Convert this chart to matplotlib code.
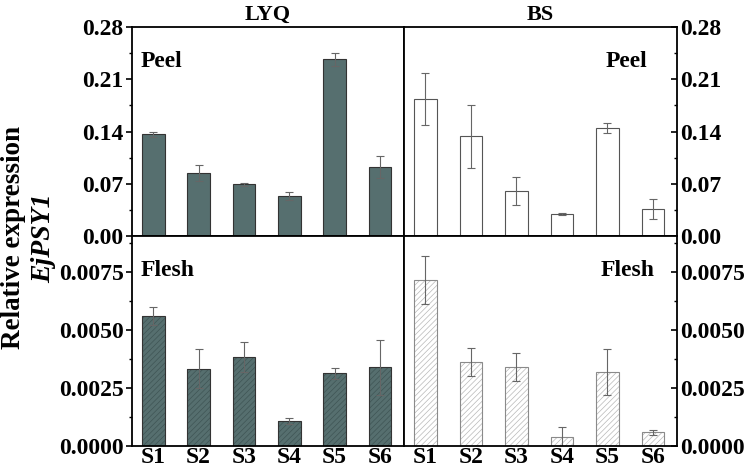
import numpy as np
import matplotlib
matplotlib.use("Agg")
import matplotlib.pyplot as plt

plt.rcParams['font.family'] = ['Liberation Serif', 'DejaVu Serif']
plt.rcParams['font.weight'] = 'bold'
plt.rcParams['hatch.linewidth'] = 0.5

stages = ["S1", "S2", "S3", "S4", "S5", "S6"]

# peel
lyq_peel = [0.136, 0.0844, 0.0696, 0.0534, 0.2365, 0.0925]
lyq_peel_err = [0.004, 0.011, 0.002, 0.005, 0.009, 0.015]
bs_peel = [0.184, 0.1337, 0.0602, 0.0296, 0.1444, 0.0359]
bs_peel_err = [0.035, 0.042, 0.019, 0.001, 0.007, 0.0135]

# flesh
lyq_flesh = [0.0056, 0.00334, 0.00384, 0.00106, 0.00313, 0.00339]
lyq_flesh_err = [0.0004, 0.00083, 0.00064, 0.00013, 0.00023, 0.0012]
bs_flesh = [0.00716, 0.00361, 0.0034, 0.00037, 0.0032, 0.00059]
bs_flesh_err = [0.00103, 0.00061, 0.00061, 0.00043, 0.001, 0.0001]

fill = "#566f6f"
x = np.arange(len(stages))
fig = plt.figure(figsize=(7.49, 4.69), dpi=100)

L, M, R = 0.1762, 0.5394, 0.9039
T, C, B = 0.9424, 0.4968, 0.049
ax_tl = fig.add_axes([L, C, M - L, T - C])
ax_tr = fig.add_axes([M, C, R - M, T - C])
ax_bl = fig.add_axes([L, B, M - L, C - B])
ax_br = fig.add_axes([M, B, R - M, C - B])

eb = dict(ecolor="#666666", elinewidth=0.8, capsize=3, capthick=0.8)

ax_tl.bar(x, lyq_peel, 0.5, yerr=lyq_peel_err, color=fill, edgecolor="#333333", lw=0.8, error_kw=eb)
ax_tr.bar(x, bs_peel, 0.5, yerr=bs_peel_err, color="white", edgecolor="#555555", lw=0.8, error_kw=eb)

# flesh: hatch drawn in a soft colour, outline drawn on top
ax_bl.bar(x, lyq_flesh, 0.5, color=fill, edgecolor="#3f5555", lw=0, hatch="//////")
ax_bl.bar(x, lyq_flesh, 0.5, yerr=lyq_flesh_err, fill=False, edgecolor="#333333", lw=0.8, error_kw=eb)
ax_br.bar(x, bs_flesh, 0.5, color="white", edgecolor="#b8b8b8", lw=0, hatch="//////")
ax_br.bar(x, bs_flesh, 0.5, yerr=bs_flesh_err, fill=False, edgecolor="#8a8a8a", lw=0.8, error_kw=eb)

for ax in (ax_tl, ax_tr):
    ax.set_ylim(0, 0.28)
    ax.set_yticks([0, 0.07, 0.14, 0.21, 0.28])
    ax.set_yticks([0.035, 0.105, 0.175, 0.245], minor=True)
    ax.set_yticklabels(["0.00", "0.07", "0.14", "0.21", "0.28"])
for ax in (ax_bl, ax_br):
    ax.set_ylim(0, 0.00905)
    ax.set_yticks([0, 0.0025, 0.005, 0.0075])
    ax.set_yticks([0.00125, 0.00375, 0.00625, 0.00875], minor=True)
    ax.set_yticklabels(["0.0000", "0.0025", "0.0050", "0.0075"])

for ax in (ax_tl, ax_tr, ax_bl, ax_br):
    ax.set_xlim(-0.47, 5.53)
    ax.tick_params(axis='x', length=0)
    ax.tick_params(axis='y', labelsize=17, width=1.2, length=4, pad=2)
    ax.tick_params(axis='y', which='minor', width=1.0, length=2.5)
    for s in ax.spines.values():
        s.set_linewidth(1.3)
    ax.set_xticks(x)

for ax in (ax_tl, ax_tr):
    ax.set_xticklabels([])
for ax in (ax_bl, ax_br):
    ax.set_xticklabels(stages, fontsize=17)
    ax.tick_params(axis='x', pad=1)

for ax in (ax_tr, ax_br):
    ax.yaxis.tick_right()
    ax.tick_params(axis='y', which='both', direction='in')

ax_tl.set_title("LYQ", fontsize=16, fontweight='bold', pad=5)
ax_tr.set_title("BS", fontsize=16, fontweight='bold', pad=5)

ax_tl.text(0.03, 0.81, "Peel", transform=ax_tl.transAxes, fontsize=17, fontweight='bold')
ax_tr.text(0.74, 0.81, "Peel", transform=ax_tr.transAxes, fontsize=17, fontweight='bold')
ax_bl.text(0.03, 0.81, "Flesh", transform=ax_bl.transAxes, fontsize=17, fontweight='bold')
ax_br.text(0.72, 0.81, "Flesh", transform=ax_br.transAxes, fontsize=17, fontweight='bold')

fig.text(0.018, 0.493, "Relative expression", rotation=90, ha='center', va='center',
         fontsize=19.5, fontweight='bold')
fig.text(0.058, 0.492, "EjPSY1", rotation=90, ha='center', va='center',
         fontsize=20, fontweight='bold', style='italic')

fig.savefig("out.png", dpi=100)
